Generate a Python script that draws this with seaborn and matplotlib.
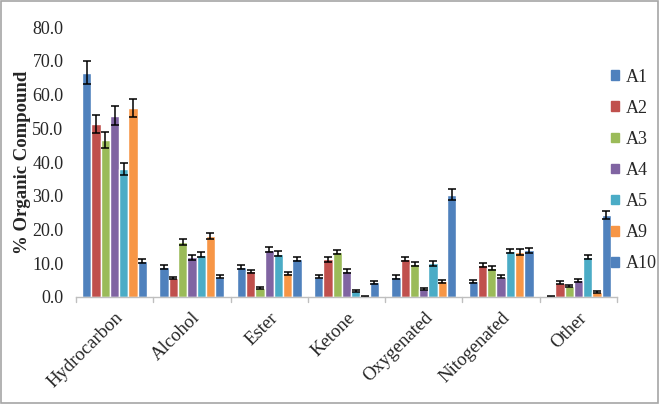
import numpy as np
import pandas as pd
import matplotlib
matplotlib.use("Agg")
import matplotlib.pyplot as plt
import seaborn as sns

categories = ["Hydrocarbon", "Alcohol", "Ester", "Ketone", "Oxygenated", "Nitogenated", "Other"]
samples = ["A1", "A2", "A3", "A4", "A5", "A9", "A10"]

# mean values per sample, one entry per category
a1 = [66.5, 8.8, 8.8, 6.0, 5.9, 4.6, 0.1]
a2 = [51.2, 5.6, 7.6, 11.2, 11.3, 9.6, 4.2]
a3 = [46.6, 16.3, 2.6, 13.3, 9.7, 8.6, 3.1]
a4 = [53.7, 11.7, 14.0, 7.7, 2.3, 6.0, 4.9]
a5 = [37.9, 12.5, 12.8, 1.8, 10.0, 13.5, 11.8]
a9 = [56.0, 18.0, 7.0, 0.2, 4.6, 13.3, 1.5]
a10 = [10.6, 6.0, 11.3, 4.3, 30.3, 13.8, 24.3]

# error bar half-heights
e1 = [3.3, 0.6, 0.6, 0.5, 0.5, 0.4, 0.1]
e2 = [2.6, 0.4, 0.5, 0.7, 0.6, 0.6, 0.4]
e3 = [2.4, 0.8, 0.3, 0.7, 0.6, 0.6, 0.3]
e4 = [2.8, 0.7, 0.7, 0.5, 0.3, 0.5, 0.4]
e5 = [1.9, 0.7, 0.7, 0.2, 0.7, 0.6, 0.6]
e9 = [2.7, 0.9, 0.5, 0.1, 0.4, 0.8, 0.2]
e10 = [0.6, 0.4, 0.6, 0.4, 1.6, 0.8, 1.1]

means = [a1, a2, a3, a4, a5, a9, a10]
errs = [e1, e2, e3, e4, e5, e9, e10]
colors = ["#4F81BD", "#C0504D", "#9BBB59", "#8064A2", "#4BACC6", "#F79646", "#4F81BD"]

rows = []
for s, vals, ers in zip(samples, means, errs):
    for c, v, e in zip(categories, vals, ers):
        rows.append({"category": c, "sample": s, "value": v, "err": e})
df = pd.DataFrame(rows)

sns.set_style("white")
plt.rcParams["font.family"] = ["Liberation Serif", "DejaVu Serif"]

fig = plt.figure(figsize=(6.6, 4.04), dpi=100)
ax = fig.add_axes([0.115, 0.265, 0.82, 0.668])

sns.barplot(data=df, x="category", y="value", hue="sample", palette=colors,
            order=categories, hue_order=samples, errorbar=None, width=0.84,
            saturation=1, ax=ax, legend=False)

# error bars on top of each bar
for i, s in enumerate(samples):
    cont = ax.containers[i]
    xs = [p.get_x() + p.get_width() / 2 for p in cont]
    ax.errorbar(xs, means[i], yerr=errs[i], fmt="none", ecolor="black",
                elinewidth=1.1, capsize=3.2, capthick=1.1)

ax.set_ylim(0, 80)
ax.set_xlim(-0.5, len(categories) - 0.5)
ax.set_yticks(np.arange(0, 81, 10))
ax.set_yticklabels([f"{v:.1f}" for v in np.arange(0, 81, 10)], fontsize=13)
ax.set_xticks(range(len(categories)))
ax.set_xticklabels(categories, rotation=45, ha="right", rotation_mode="anchor", fontsize=13.5)
ax.tick_params(axis="x", length=0, pad=9)
ax.tick_params(axis="y", length=0, pad=9)
ax.set_xlabel("")
ax.set_ylabel("% Organic Compound", fontsize=13.5, fontweight="bold", labelpad=1)

for sp in ["top", "right", "left"]:
    ax.spines[sp].set_visible(False)
ax.spines["bottom"].set_color("#BFBFBF")
ax.spines["bottom"].set_linewidth(1)
# category separator ticks below the axis
for b in np.arange(-0.5, len(categories), 1):
    ax.plot([b, b], [0, -1.6], color="#BFBFBF", lw=1, clip_on=False)

handles = [plt.Rectangle((0, 0), 1, 1, color=c) for c in colors]
fig.legend(handles, samples, loc="upper left", bbox_to_anchor=(0.926, 0.83),
           frameon=False, fontsize=13, handlelength=0.45, handleheight=0.45,
           handletextpad=0.35, labelspacing=0.78, borderpad=0, borderaxespad=0)

# outer frame
fig.patches.append(plt.Rectangle((0.002, 0.003), 0.995, 0.994, transform=fig.transFigure,
                                 fill=False, edgecolor="#A6A6A6", lw=1.2))

fig.savefig("out.png", dpi=100)
